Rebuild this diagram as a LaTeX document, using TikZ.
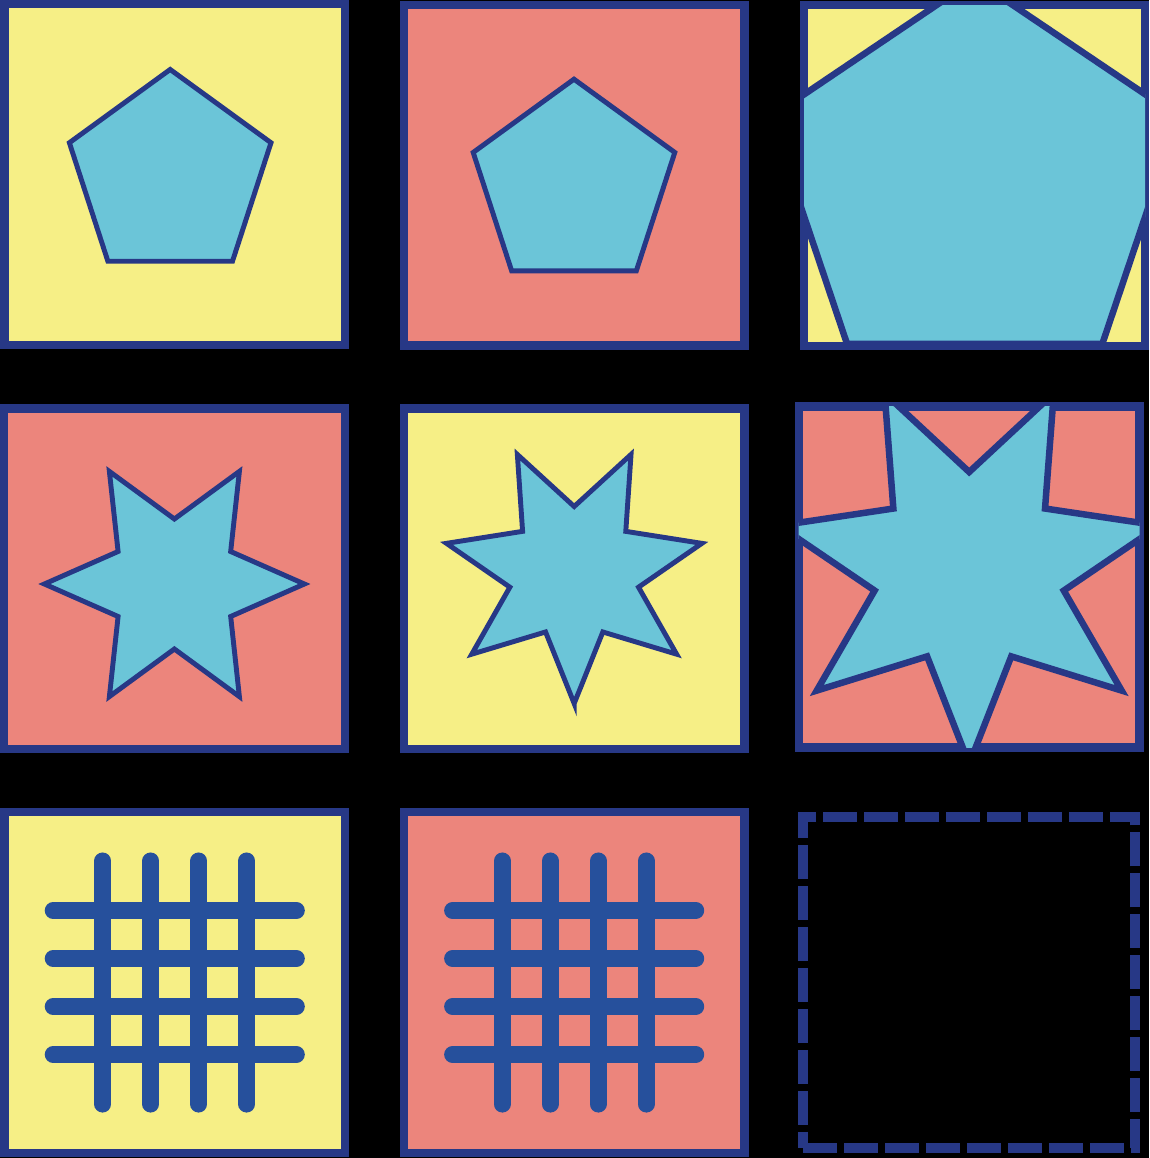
\documentclass[tikz,border=0pt]{standalone}
\usepackage{tikz}
\usepackage{xcolor}
\definecolor{azulborda}{RGB}{39,56,134}
\definecolor{azulgrade}{RGB}{38,80,156}
\definecolor{amarelo}{RGB}{246,239,134}
\definecolor{salmao}{RGB}{236,133,124}
\definecolor{ciano}{RGB}{107,197,216}

\begin{document}
\begin{tikzpicture}[
    x=0.02cm,
    y=-0.02cm,
    painel/.style={
        draw=azulborda,
        line width=4.8pt,
        minimum size=6.82cm,
        inner sep=0pt,
        outer sep=0pt
    },
    figura/.style={
        fill=ciano,
        draw=azulborda,
        line width=2.8pt,
        line join=miter
    },
    figuragrande/.style={
        figura,
        line width=3.7pt
    },
    grade/.style={
        draw=azulgrade,
        line width=9.5pt,
        line cap=round
    },
    vazio/.style={
        draw=azulborda,
        line width=5.7pt,
        dash pattern=on 19.3pt off 4pt,
        minimum width=6.64cm,
        minimum height=6.63cm,
        inner sep=0pt,
        outer sep=0pt
    }
]

% ---------------- Fundo ----------------

\fill[black] (0,0) rectangle (1149,1158);

% ---------------- Linha 1: pentagonos ----------------

\node[
    painel,
    fill=amarelo
] (p1) at (174.6,174.75)
{};

\begin{scope}[shift={(170,175.5)}]
    \draw[figura] (-90:106) -- (-18:106) -- (54:106) -- (126:106) -- (198:106) -- cycle;
\end{scope}

\node[
    painel,
    fill=salmao
] (p2) at (574,175.2)
{};

\begin{scope}[shift={(573.8,185.2)}]
    \draw[figura] (-90:106) -- (-18:106) -- (54:106) -- (126:106) -- (198:106) -- cycle;
\end{scope}

\node[
    painel,
    fill=amarelo
] (p3) at (974.5,175.5)
{};

\begin{scope}
    \clip (p3.north west) rectangle (p3.south east);
    \draw[figuragrande] (974.5,-20.6) -- (1178.6,117) -- (1102.1,344)
        -- (846.9,344) -- (770.4,117) -- cycle;
\end{scope}

% ---------------- Linha 2: estrelas ----------------

\node[
    painel,
    fill=salmao
] (p4) at (174.5,578.75)
{};

\begin{scope}[shift={(174.2,584)}]
    \draw[figura] (0:130)
        \foreach \a in {30,90,...,330} { -- (\a:65) -- ({\a+30}:130) } -- cycle;
\end{scope}

\node[
    painel,
    fill=amarelo
] (p5) at (574,578.75)
{};

\begin{scope}[shift={(574,572.5)}]
    \draw[figura] (90:131)
        \foreach \k in {0,...,6} { -- ({115.714+51.4286*\k}:66) -- ({141.4286+51.4286*\k}:131) } -- cycle;
\end{scope}

\node[
    painel,
    fill=salmao
] (p6) at (969,576.85)
{};

\begin{scope}
    \clip (p6.north west) rectangle (p6.south east);
    \begin{scope}[shift={(969,569)}]
        \draw[figuragrande] (90:195)
            \foreach \k in {0,...,6} { -- ({115.714+51.4286*\k}:97) -- ({141.4286+51.4286*\k}:195) } -- cycle;
    \end{scope}
\end{scope}

% ---------------- Linha 3: grades ----------------

\node[
    painel,
    fill=amarelo
] (p7) at (174.6,982.5)
{};

\begin{scope}[shift={(174.6,982.5)}]
    \foreach \d in {-72,-24,24,72} {
        \draw[grade] (\d,-121.7) -- (\d,121.7);
        \draw[grade] (-121.7,\d) -- (121.7,\d);
    }
\end{scope}

\node[
    painel,
    fill=salmao
] (p8) at (574,982.5)
{};

\begin{scope}[shift={(574,982.5)}]
    \foreach \d in {-72,-24,24,72} {
        \draw[grade] (\d,-121.7) -- (\d,121.7);
        \draw[grade] (-121.7,\d) -- (121.7,\d);
    }
\end{scope}

\node[vazio] (p9) at (969,982.75) {};

\end{tikzpicture}
\end{document}
